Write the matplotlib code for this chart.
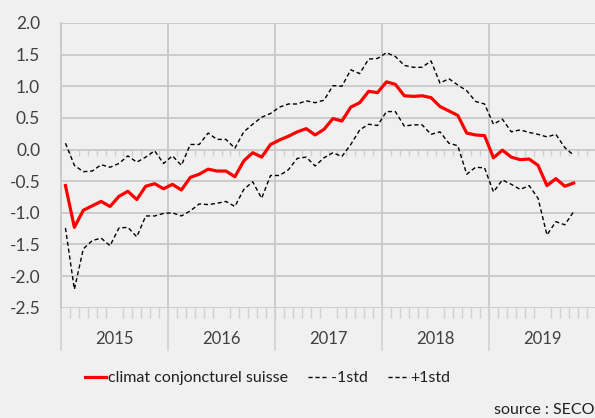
"""
Climat conjoncturel suisse (SECO) with +/-1 std band
"""

import numpy as np
import matplotlib
matplotlib.use("Agg")
import matplotlib.pyplot as plt

plt.rcParams["font.family"] = ["Lato", "DejaVu Sans"]
plt.rcParams["axes.unicode_minus"] = False

# monthly values, Jan 2015 - Oct 2019
climat = [
    -0.57, -1.23, -0.96, -0.89, -0.82, -0.90, -0.74, -0.66, -0.79, -0.58, -0.54, -0.62,
    -0.55, -0.64, -0.44, -0.39, -0.31, -0.34, -0.34, -0.43, -0.18, -0.05, -0.12, 0.08,
    0.15, 0.21, 0.28, 0.33, 0.23, 0.32, 0.49, 0.45, 0.67, 0.74, 0.92, 0.90,
    1.07, 1.03, 0.85, 0.84, 0.85, 0.82, 0.68, 0.61, 0.54, 0.26, 0.23, 0.22,
    -0.13, -0.01, -0.12, -0.16, -0.15, -0.25, -0.57, -0.46, -0.58, -0.53,
]
minus_1std = [
    -1.24, -2.21, -1.57, -1.44, -1.40, -1.52, -1.24, -1.23, -1.38, -1.05, -1.05, -1.01,
    -1.00, -1.05, -0.97, -0.86, -0.87, -0.85, -0.82, -0.90, -0.63, -0.51, -0.77, -0.41,
    -0.41, -0.32, -0.14, -0.12, -0.26, -0.13, -0.05, -0.11, 0.08, 0.31, 0.40, 0.38,
    0.60, 0.60, 0.37, 0.39, 0.39, 0.24, 0.28, 0.10, 0.06, -0.39, -0.28, -0.29,
    -0.67, -0.48, -0.55, -0.63, -0.57, -0.77, -1.35, -1.14, -1.19, -0.98,
]
plus_1std = [
    0.10, -0.25, -0.35, -0.34, -0.24, -0.28, -0.22, -0.10, -0.20, -0.12, -0.02, -0.22,
    -0.10, -0.25, 0.08, 0.08, 0.26, 0.16, 0.16, 0.02, 0.28, 0.40, 0.51, 0.57,
    0.67, 0.72, 0.72, 0.77, 0.74, 0.78, 1.01, 1.00, 1.26, 1.20, 1.43, 1.44,
    1.53, 1.47, 1.33, 1.30, 1.30, 1.40, 1.05, 1.12, 1.02, 0.93, 0.76, 0.72,
    0.40, 0.48, 0.28, 0.31, 0.27, 0.24, 0.20, 0.24, 0.03, -0.09,
]
years = ["2015", "2016", "2017", "2018", "2019"]
y_ticks = [2.0, 1.5, 1.0, 0.5, 0.0, -0.5, -1.0, -1.5, -2.0, -2.5]

BG = "#f0f0f0"
GRID = "#c9c9c9"
TXT = "#404040"

fig = plt.figure(figsize=(5.95, 4.18), dpi=100, facecolor=BG)
ax = fig.add_axes([61 / 595, 1 - 307.7 / 418, 535 / 595, 284.7 / 418])
ax.set_facecolor(BG)

n_months = 12 * len(years)
x = np.arange(len(climat)) + 0.5

# grid
for v in y_ticks:
    ax.axhline(v, color=GRID, linewidth=1.3, zorder=1)
for k in range(len(years) + 1):
    ax.plot([12 * k, 12 * k], [0, 1.0], transform=ax.get_xaxis_transform(),
            color=GRID, linewidth=1.3, zorder=1)
    ax.plot([12 * k, 12 * k], [-0.15, 0], transform=ax.get_xaxis_transform(),
            color="#d4d4d4", linewidth=1.3, clip_on=False, zorder=1)

# month ticks under zero line
months = np.arange(1, n_months)
ax.vlines(months, -0.1, 0, color="#d0d0d0", linewidth=1.0, zorder=1)

ax.plot(x, minus_1std, color="black", linewidth=1.0, linestyle=(0, (3, 2)),
        label="-1std", zorder=3)
ax.plot(x, plus_1std, color="black", linewidth=1.0, linestyle=(0, (3, 2)),
        label="+1std", zorder=3)
ax.plot(x, climat, color="#ff0000", linewidth=2.3, label="climat conjoncturel suisse",
        zorder=4)

ax.set_xlim(0, n_months)
ax.set_ylim(-2.5, 2.0)
ax.set_yticks(y_ticks)
ax.set_yticklabels([f"{v:.1f}" for v in y_ticks], fontsize=12.5, color=TXT)
ax.tick_params(axis="y", length=0, pad=15)

ax.set_xticks(months, minor=True)
ax.set_xticks([12 * k + 6 for k in range(len(years))])
ax.set_xticklabels(years, fontsize=12, color=TXT)
ax.tick_params(axis="x", which="major", length=0, pad=17)
ax.tick_params(axis="x", which="minor", length=7.5, color="#d0d0d0", width=1.0)

for side in ["top", "right", "bottom"]:
    ax.spines[side].set_visible(False)
ax.spines["left"].set_color(GRID)
ax.spines["left"].set_linewidth(1.3)

handles, labels = ax.get_legend_handles_labels()
order = [2, 0, 1]
fig.legend([handles[i] for i in order], [labels[i] for i in order],
           loc="center", bbox_to_anchor=(268 / 595, 1 - 378 / 418), ncol=3,
           frameon=False, fontsize=11.5, handlelength=1.3, handletextpad=0.1,
           columnspacing=1.3, labelcolor="#202020")

fig.text(1.0, 1 - 410 / 418, "source : SECO", ha="right", va="center",
         fontsize=11.5, color="#202020")

fig.savefig("out.png", dpi=100, facecolor=BG)
